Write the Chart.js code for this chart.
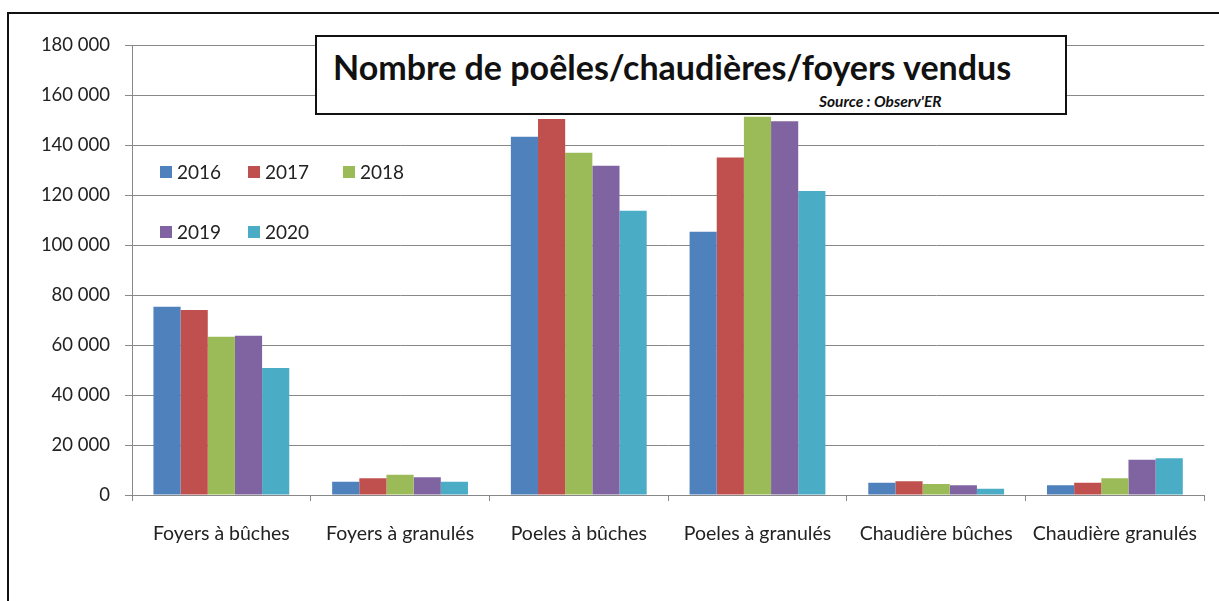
<!DOCTYPE html>
<html>
<head>
<meta charset="utf-8">
<script src="https://cdn.jsdelivr.net/npm/chart.js@4.4.1/dist/chart.umd.min.js"></script>
<style>
    html, body { margin: 0; padding: 0; background: #fff; overflow: hidden; }
    #wrap { position: relative; width: 1219px; height: 601px; overflow: hidden; }
    #frame { position: absolute; left: 7px; top: 12px; right: 0; bottom: 0; border-left: 2px solid #111; border-top: 2px solid #111; }
    #chart { position: absolute; left: 0; top: 0; }
    #titleBox {
        position: absolute; left: 315px; top: 35px; width: 748px; height: 76px;
        border: 2px solid #111; background: #fff; font-family: Lato, sans-serif;
    }
    #titleBox .t { position: absolute; left: 16px; top: 9px; font-size: 34px; font-weight: bold; color: #111; white-space: nowrap; }
    #titleBox .s { position: absolute; left: 502px; top: 55px; font-size: 15.5px; font-weight: bold; font-style: italic; color: #111; white-space: nowrap; }
</style>
</head>
<body>
<div id="wrap">
    <div id="frame"></div>
    <canvas id="chart" width="1219" height="601"></canvas>
    <div id="titleBox">
        <div class="t">Nombre de poêles/chaudières/foyers vendus</div>
        <div class="s">Source : Observ'ER</div>
    </div>
</div>
<script>
const categories = ['Foyers à bûches', 'Foyers à granulés', 'Poeles à bûches', 'Poeles à granulés', 'Chaudière bûches', 'Chaudière granulés'];
const years = ['2016', '2017', '2018', '2019', '2020'];
const values2016 = [75300, 5300, 143300, 105300, 4900, 3900];
const values2017 = [74000, 6700, 150400, 135000, 5500, 4900];
const values2018 = [63300, 8100, 136900, 151300, 4400, 6700];
const values2019 = [63700, 7100, 131700, 149500, 3900, 14100];
const values2020 = [50800, 5300, 113700, 121600, 2500, 14700];
const colors = ['#4F81BD', '#C0504D', '#9BBB59', '#8064A2', '#4BACC6'];

const series = [values2016, values2017, values2018, values2019, values2020];

// legende dessinée dans la zone du graphique (comme Excel)
const insideLegend = {
    id: 'insideLegend',
    afterDraw(chart) {
        const ctx = chart.ctx;
        const cols = [160, 248, 343];
        const rows = [172, 232];
        ctx.save();
        ctx.font = '19px Lato, sans-serif';
        ctx.textBaseline = 'middle';
        years.forEach((y, i) => {
            const x = cols[i % 3];
            const cy = rows[Math.floor(i / 3)];
            ctx.fillStyle = colors[i];
            ctx.fillRect(x, cy - 6, 12, 12);
            ctx.fillStyle = '#222';
            ctx.fillText(y, x + 17, cy + 1);
        });
        ctx.restore();
    }
};

const fmt = (v) => String(v).replace(/\B(?=(\d{3})+(?!\d))/g, ' ');

new Chart(document.getElementById('chart'), {
    type: 'bar',
    data: {
        labels: categories,
        datasets: years.map((y, i) => ({
            label: y,
            data: series[i],
            backgroundColor: colors[i],
            borderWidth: 0,
            categoryPercentage: 0.76,
            barPercentage: 1
        }))
    },
    options: {
        responsive: false,
        animation: false,
        layout: { padding: { left: 0, right: 12, top: 45, bottom: 0 } },
        plugins: {
            legend: { display: false },
            tooltip: { enabled: false }
        },
        scales: {
            x: {
                afterFit: (s) => { s.height = 106; },
                grid: { drawOnChartArea: false, tickLength: 6, color: '#888' },
                border: { color: '#888' },
                ticks: {
                    autoSkip: false, maxRotation: 0, padding: 21,
                    color: '#222', font: { family: 'Lato', size: 19.5 }
                }
            },
            y: {
                min: 0, max: 180000,
                afterFit: (s) => { s.width = 132; },
                grid: { color: '#888', tickLength: 7 },
                border: { color: '#888' },
                ticks: {
                    stepSize: 20000, padding: 15,
                    color: '#222', font: { family: 'Lato', size: 18.5 },
                    callback: (v) => fmt(v)
                }
            }
        }
    },
    plugins: [insideLegend]
});
</script>
</body>
</html>
